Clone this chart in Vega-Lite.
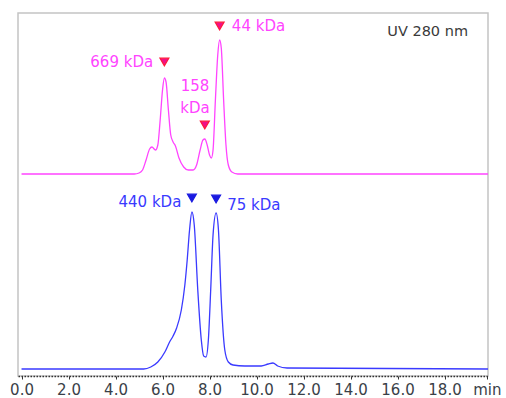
{
  "$schema": "https://vega.github.io/schema/vega-lite/v6.json",
  "width": 470,
  "height": 363,
  "autosize": {"type": "none"},
  "padding": {"left": 18, "top": 13, "right": 18, "bottom": 22},
  "background": "white",
  "config": {
    "view": {"stroke": "#c4c4c4", "strokeWidth": 1.5},
    "font": "DejaVu Sans"
  },
  "datasets": {
    "traces": [
      {"t": 0.0, "signal": 202, "run": "standards"},
      {"t": 4.8, "signal": 202, "run": "standards"},
      {"t": 5.0, "signal": 203, "run": "standards"},
      {"t": 5.15, "signal": 206, "run": "standards"},
      {"t": 5.3, "signal": 216, "run": "standards"},
      {"t": 5.45, "signal": 227, "run": "standards"},
      {"t": 5.55, "signal": 229, "run": "standards"},
      {"t": 5.7, "signal": 226, "run": "standards"},
      {"t": 5.8, "signal": 231, "run": "standards"},
      {"t": 5.9, "signal": 256, "run": "standards"},
      {"t": 6.0, "signal": 286, "run": "standards"},
      {"t": 6.08, "signal": 298, "run": "standards"},
      {"t": 6.15, "signal": 294, "run": "standards"},
      {"t": 6.25, "signal": 266, "run": "standards"},
      {"t": 6.35, "signal": 241, "run": "standards"},
      {"t": 6.45, "signal": 234, "run": "standards"},
      {"t": 6.55, "signal": 230, "run": "standards"},
      {"t": 6.7, "signal": 218, "run": "standards"},
      {"t": 6.9, "signal": 209, "run": "standards"},
      {"t": 7.1, "signal": 206, "run": "standards"},
      {"t": 7.3, "signal": 206, "run": "standards"},
      {"t": 7.45, "signal": 211, "run": "standards"},
      {"t": 7.6, "signal": 226, "run": "standards"},
      {"t": 7.72, "signal": 236, "run": "standards"},
      {"t": 7.8, "signal": 237, "run": "standards"},
      {"t": 7.9, "signal": 231, "run": "standards"},
      {"t": 8.0, "signal": 221, "run": "standards"},
      {"t": 8.08, "signal": 218, "run": "standards"},
      {"t": 8.15, "signal": 226, "run": "standards"},
      {"t": 8.25, "signal": 276, "run": "standards"},
      {"t": 8.35, "signal": 321, "run": "standards"},
      {"t": 8.43, "signal": 336, "run": "standards"},
      {"t": 8.5, "signal": 328, "run": "standards"},
      {"t": 8.6, "signal": 276, "run": "standards"},
      {"t": 8.7, "signal": 231, "run": "standards"},
      {"t": 8.8, "signal": 211, "run": "standards"},
      {"t": 8.95, "signal": 204, "run": "standards"},
      {"t": 9.2, "signal": 202, "run": "standards"},
      {"t": 19.85, "signal": 202, "run": "standards"},
      {"t": 0.0, "signal": 7, "run": "sample"},
      {"t": 5.2, "signal": 7, "run": "sample"},
      {"t": 5.5, "signal": 9, "run": "sample"},
      {"t": 5.8, "signal": 14, "run": "sample"},
      {"t": 6.1, "signal": 24, "run": "sample"},
      {"t": 6.3, "signal": 34, "run": "sample"},
      {"t": 6.45, "signal": 40, "run": "sample"},
      {"t": 6.6, "signal": 48, "run": "sample"},
      {"t": 6.8, "signal": 66, "run": "sample"},
      {"t": 6.95, "signal": 91, "run": "sample"},
      {"t": 7.05, "signal": 116, "run": "sample"},
      {"t": 7.15, "signal": 146, "run": "sample"},
      {"t": 7.25, "signal": 164, "run": "sample"},
      {"t": 7.35, "signal": 151, "run": "sample"},
      {"t": 7.5, "signal": 86, "run": "sample"},
      {"t": 7.65, "signal": 36, "run": "sample"},
      {"t": 7.75, "signal": 20, "run": "sample"},
      {"t": 7.85, "signal": 19, "run": "sample"},
      {"t": 7.95, "signal": 36, "run": "sample"},
      {"t": 8.05, "signal": 86, "run": "sample"},
      {"t": 8.15, "signal": 141, "run": "sample"},
      {"t": 8.28, "signal": 163, "run": "sample"},
      {"t": 8.38, "signal": 146, "run": "sample"},
      {"t": 8.5, "signal": 76, "run": "sample"},
      {"t": 8.65, "signal": 26, "run": "sample"},
      {"t": 8.8, "signal": 14, "run": "sample"},
      {"t": 9.0, "signal": 11, "run": "sample"},
      {"t": 9.5, "signal": 10, "run": "sample"},
      {"t": 10.2, "signal": 10, "run": "sample"},
      {"t": 10.5, "signal": 12, "run": "sample"},
      {"t": 10.7, "signal": 13, "run": "sample"},
      {"t": 10.9, "signal": 10, "run": "sample"},
      {"t": 11.3, "signal": 8, "run": "sample"},
      {"t": 19.85, "signal": 7, "run": "sample"}
    ],
    "markers": [
      {"t": 6.08, "signal": 314, "run": "standards"},
      {"t": 7.8, "signal": 251, "run": "standards"},
      {"t": 8.43, "signal": 350, "run": "standards"},
      {"t": 7.25, "signal": 178, "run": "sample"},
      {"t": 8.28, "signal": 177, "run": "sample"}
    ],
    "labels": [
      {"t": 5.6, "signal": 314, "text": "669 kDa", "run": "standards", "side": "right"},
      {"t": 7.38, "signal": 290, "text": "158", "run": "standards", "side": "center"},
      {"t": 7.38, "signal": 268, "text": "kDa", "run": "standards", "side": "center"},
      {"t": 8.95, "signal": 350, "text": "44 kDa", "run": "standards", "side": "left"},
      {"t": 6.8, "signal": 174, "text": "440 kDa", "run": "sample", "side": "right"},
      {"t": 8.75, "signal": 171, "text": "75 kDa", "run": "sample", "side": "left"}
    ]
  },
  "encoding": {
    "x": {
      "field": "t",
      "type": "quantitative",
      "scale": {"domain": [-0.15, 19.85], "nice": false, "zero": false},
      "axis": {
        "values": [0, 2, 4, 6, 8, 10, 12, 14, 16, 18, 19.8],
        "labelExpr": "datum.value > 19 ? 'min' : format(datum.value, '.1f')",
        "title": null,
        "grid": false,
        "domainColor": "#333333",
        "domainDash": [1.5, 1.5],
        "domainWidth": 1.5,
        "tickColor": "#333333",
        "tickSize": 3,
        "tickWidth": 1,
        "labelFont": "DejaVu Sans",
        "labelFontSize": 15,
        "labelColor": "#3a3f48",
        "labelPadding": 3,
        "labelFlush": false,
        "labelBound": false,
        "labelOverlap": false
      }
    },
    "y": {
      "field": "signal",
      "type": "quantitative",
      "scale": {"domain": [0, 363], "nice": false},
      "axis": null
    }
  },
  "layer": [
    {
      "data": {"name": "traces"},
      "mark": {"type": "line", "interpolate": "monotone", "strokeWidth": 1.3},
      "encoding": {
        "color": {
          "field": "run",
          "type": "nominal",
          "scale": {"domain": ["standards", "sample"], "range": ["#ff44ff", "#3a3aff"]},
          "legend": null
        }
      }
    },
    {
      "data": {"name": "markers"},
      "mark": {"type": "point", "shape": "triangle-down", "size": 80, "filled": true, "opacity": 1, "strokeWidth": 1.2},
      "encoding": {
        "fill": {
          "field": "run",
          "type": "nominal",
          "scale": {"domain": ["standards", "sample"], "range": ["#f0108a", "#1a1ae0"]},
          "legend": null
        },
        "stroke": {
          "field": "run",
          "type": "nominal",
          "scale": {"domain": ["standards", "sample"], "range": ["#ff1a3a", "#1a1ae0"]},
          "legend": null
        }
      }
    },
    {
      "data": {"name": "labels"},
      "transform": [{"filter": "datum.side === 'right'"}],
      "mark": {"type": "text", "fontSize": 15, "font": "DejaVu Sans", "baseline": "middle", "align": "right"},
      "encoding": {
        "text": {"field": "text"},
        "color": {
          "field": "run",
          "type": "nominal",
          "scale": {"domain": ["standards", "sample"], "range": ["#e23ee2", "#3c3cd8"]},
          "legend": null
        }
      }
    },
    {
      "data": {"name": "labels"},
      "transform": [{"filter": "datum.side === 'left'"}],
      "mark": {"type": "text", "fontSize": 15, "font": "DejaVu Sans", "baseline": "middle", "align": "left"},
      "encoding": {
        "text": {"field": "text"},
        "color": {
          "field": "run",
          "type": "nominal",
          "scale": {"domain": ["standards", "sample"], "range": ["#e23ee2", "#3c3cd8"]},
          "legend": null
        }
      }
    },
    {
      "data": {"name": "labels"},
      "transform": [{"filter": "datum.side === 'center'"}],
      "mark": {"type": "text", "fontSize": 15, "font": "DejaVu Sans", "baseline": "middle", "align": "center"},
      "encoding": {
        "text": {"field": "text"},
        "color": {
          "field": "run",
          "type": "nominal",
          "scale": {"domain": ["standards", "sample"], "range": ["#e23ee2", "#3c3cd8"]},
          "legend": null
        }
      }
    },
    {
      "data": {"values": [{"t": 19.0, "signal": 344, "text": "UV 280 nm"}]},
      "mark": {"type": "text", "fontSize": 14.5, "font": "DejaVu Sans", "align": "right", "baseline": "middle", "color": "#3a3a3a"},
      "encoding": {"text": {"field": "text"}}
    }
  ]
}
